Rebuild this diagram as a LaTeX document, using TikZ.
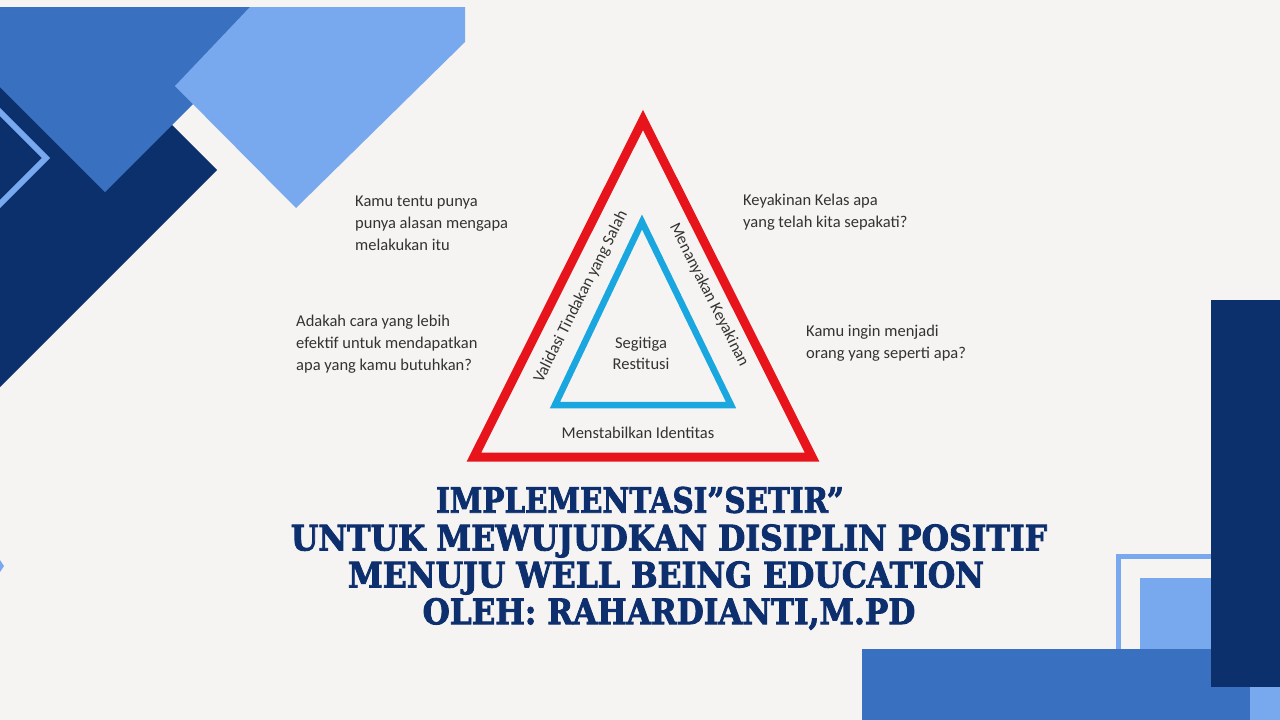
\documentclass[tikz,border=0pt]{standalone}
\usepackage{fontspec}
\setmainfont{Carlito}
\newfontfamily\titlefont[UprightFont={* Bold},FakeBold=2.5]{DejaVu Serif}
\usetikzlibrary{positioning}
\definecolor{paper}{RGB}{245,244,242}
\definecolor{navy}{RGB}{11,48,108}
\definecolor{midblue}{RGB}{58,112,192}
\definecolor{lightblue}{RGB}{120,169,239}
\definecolor{trired}{RGB}{232,20,28}
\definecolor{tricyan}{RGB}{26,167,224}
\definecolor{inkgray}{RGB}{51,51,51}
\definecolor{titleblue}{RGB}{13,47,110}
\tikzset{
  question/.style={text=inkgray, align=left, anchor=west, inner sep=0pt,
    font=\fontsize{16.5}{22}\selectfont},
  sidelabel/.style={text=inkgray, inner sep=0pt, font=\fontsize{16.5}{21}\selectfont},
  titleline/.style={text=titleblue, inner sep=0pt,
    font=\titlefont\fontsize{35}{37}\selectfont}
}
\newcommand{\squeeze}[2]{\scalebox{#1}[1]{#2}}

\begin{document}
\begin{tikzpicture}[x=1pt,y=-1pt]

\pgfmathsetmacro{\redw}{9}
\pgfmathsetmacro{\cyanw}{6.5}
  \fill[paper](0,0) rectangle (1280,720);
  \useasboundingbox (0,0) rectangle (1280,720);

  % corner shapes, top left
  \fill[navy](0,7)--(54,7)--(217,170)--(0,387)--cycle;
  \draw[lightblue,line width=6pt](-2,110)--(46,158)--(-2,206);
  \fill[midblue](0,7)--(290,7)--(105,192)--(0,87)--cycle;
  \fill[lightblue](250,7)--(465,7)--(465,42)--(296,208)--(175,86)--cycle;
  \fill[lightblue](0,560)--(4,566)--(0,572)--cycle;

  % corner shapes, bottom right
  \draw[lightblue,line width=5pt](1118.5,730)--(1118.5,556.5)--(1290,556.5);
  \fill[lightblue](1140,578) rectangle (1280,720);
  \fill[midblue](862,649) rectangle (1250,720);
  \fill[navy](1211,300) rectangle (1280,687);

  % the two triangles
  \coordinate (rtop) at (643,120);
  \coordinate (rleft) at (474,457);
  \coordinate (rright) at (812,457);
  \coordinate (ctop) at (642,222);
  \coordinate (cleft) at (555,405);
  \coordinate (cright) at (731,405);
  \draw[trired,line width=\redw pt,line join=miter](rtop)--(rleft)--(rright)--cycle;
  \draw[tricyan,line width=\cyanw pt,line join=miter](ctop)--(cleft)--(cright)--cycle;

  \node[sidelabel,align=center] (core) at (641,353) {Segitiga\\Restitusi};
  \node[sidelabel] (base) at (638,433) {Menstabilkan Identitas};
  \node[sidelabel,rotate=63.4] (valid) at (581,297) {Validasi Tindakan yang Salah};
  \node[sidelabel,rotate=-63.4] (ask) at (709,295) {Menanyakan Keyakinan};

  \node[question] (q1) at (355,223) {Kamu tentu punya\\punya alasan mengapa\\melakukan itu};
  \node[question] (q2) at (296,344) {Adakah cara yang lebih\\efektif untuk mendapatkan\\apa yang kamu butuhkan?};
  \node[question] (q3) at (743,212.5) {Keyakinan Kelas apa\\yang telah kita sepakati?};
  \node[question] (q4) at (806,343) {Kamu ingin menjadi\\orang yang seperti apa?};

  \node[titleline] (t1) at (640,500) {\squeeze{0.84}{IMPLEMENTASI”SETIR”}};
  \node[titleline] (t2) at (669,541) {\squeeze{0.9}{UNTUK MEWUJUDKAN DISIPLIN POSITIF}};
  \node[titleline] (t3) at (666,578) {\squeeze{0.9}{MENUJU WELL BEING EDUCATION}};
  \node[titleline] (t4) at (669,614) {\squeeze{0.89}{OLEH: RAHARDIANTI,M.PD}};

  \end{tikzpicture}
\end{document}
